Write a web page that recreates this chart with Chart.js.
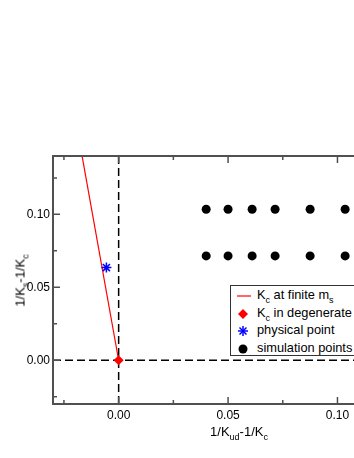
<!DOCTYPE html>
<html>
<head>
<meta charset="utf-8">
<script src="https://cdn.jsdelivr.net/npm/chart.js@4/dist/chart.umd.min.js"></script>
<style>
  html, body { margin:0; padding:0; background:#fff; overflow:hidden; }
  #wrap { position:relative; width:354px; height:458px; overflow:hidden; font-family:"Liberation Sans", Arial, sans-serif; color:#000; }
  #c { position:absolute; left:0; top:0; }
  .sub { font-size:9px; position:relative; top:4px; }
  #xtitle { position:absolute; top:424px; left:0; width:478px; text-align:center; font-size:13px; line-height:16px; }
  #ytitle { position:absolute; left:21px; top:280px; width:120px; margin-left:-60px; margin-top:-8px; text-align:center; font-size:13px; line-height:16px; transform:rotate(-90deg); white-space:nowrap; }
  #legend { position:absolute; left:230px; top:285px; width:188px; height:71px; border:1px solid #333; background:#fff; box-sizing:border-box; font-size:12.8px; }
  .row { position:absolute; left:0; height:17px; line-height:17px; white-space:nowrap; }
  .row svg { position:absolute; left:3px; top:2px; }
  .row span.t { position:absolute; left:26px; top:-1px; }
</style>
</head>
<body>
<div id="wrap">
  <canvas id="c" width="458" height="458"></canvas>
  <div id="ytitle">1/K<span class="sub">s</span>-1/K<span class="sub">c</span></div>
  <div id="xtitle">1/K<span class="sub">ud</span>-1/K<span class="sub">c</span></div>
  <div id="legend"></div>
</div>
<script>
// ---- data ----
const xRange = [-0.03, 0.14];
const yRange = [-0.03, 0.14];
const xTickValues = [0.00, 0.05, 0.10];
const yTickValues = [0.00, 0.05, 0.10];
const xMinorTicks = [-0.025, 0.025, 0.075, 0.125];
const yMinorTicks = [-0.025, 0.025, 0.075, 0.125];

const kcLineX = [0.0, -0.018];
const kcLineY = [0.0, 0.1508];

const degenerateX = [0.0];
const degenerateY = [0.0];

const physicalX = [-0.0056];
const physicalY = [0.0635];

const simX = [0.040, 0.050, 0.061, 0.0715, 0.0875, 0.1035];
const simYRows = [0.1035, 0.0715];

const legendLabels = [
  'K<span class="sub">c</span> at finite m<span class="sub">s</span>',
  'K<span class="sub">c</span> in degenerate',
  'physical point',
  'simulation points'
];

// ---- build ----
const zip = (xs, ys) => xs.map((x, i) => ({x: x, y: ys[i]}));
const simPoints = [];
simYRows.forEach(y => simX.forEach(x => simPoints.push({x: x, y: y})));

const frameTicks = {
  id: 'frameTicks',
  afterDatasetsDraw(chart) {
    const ctx = chart.ctx, a = chart.chartArea;
    const xs = chart.scales.x, ys = chart.scales.y;
    ctx.save();
    ctx.strokeStyle = '#505050';
    ctx.lineWidth = 1.5;
    ctx.beginPath();
    const tick = (vals, len) => {
      vals.forEach(v => {
        const px = xs.getPixelForValue(v);
        if (px > a.left && px < a.right) {
          ctx.moveTo(px, a.bottom); ctx.lineTo(px, a.bottom - len);
          ctx.moveTo(px, a.top); ctx.lineTo(px, a.top + len);
        }
      });
    };
    const ytick = (vals, len) => {
      vals.forEach(v => {
        const py = ys.getPixelForValue(v);
        if (py > a.top && py < a.bottom) {
          ctx.moveTo(a.left, py); ctx.lineTo(a.left + len, py);
          ctx.moveTo(a.right, py); ctx.lineTo(a.right - len, py);
        }
      });
    };
    tick(xTickValues, 7); tick(xMinorTicks, 4);
    ytick(yTickValues, 7); ytick(yMinorTicks, 4);
    ctx.stroke();
    ctx.lineWidth = 2;
    ctx.strokeRect(a.left, a.top, a.right - a.left, a.bottom - a.top);
    ctx.restore();
  }
};

const chart = new Chart(document.getElementById('c'), {
  type: 'scatter',
  data: {
    datasets: [
      { label: 'x0', data: [{x: 0, y: yRange[0]}, {x: 0, y: yRange[1]}], showLine: true, borderColor: '#000', borderWidth: 1.5, borderDash: [8, 4], pointRadius: 0, order: 5 },
      { label: 'y0', data: [{x: xRange[0], y: 0}, {x: xRange[1], y: 0}], showLine: true, borderColor: '#000', borderWidth: 1.5, borderDash: [8, 4], pointRadius: 0, order: 5 },
      { label: 'Kc at finite ms', data: zip(kcLineX, kcLineY), showLine: true, borderColor: '#ff0000', borderWidth: 1.2, pointRadius: 0, order: 4 },
      { label: 'simulation points', data: simPoints, pointStyle: 'circle', pointRadius: 4.5, backgroundColor: '#000', borderColor: '#000', borderWidth: 0, order: 3 },
      { label: 'physical point', data: zip(physicalX, physicalY), pointStyle: 'star', pointRadius: 5, backgroundColor: '#0000ff', borderColor: '#0000ff', borderWidth: 1.5, order: 2 },
      { label: 'Kc in degenerate', data: zip(degenerateX, degenerateY), pointStyle: 'rectRot', pointRadius: 5, backgroundColor: '#ff0000', borderColor: '#ff0000', borderWidth: 0, order: 1 }
    ]
  },
  options: {
    responsive: false,
    animation: false,
    layout: { padding: { top: 156, right: 33, left: 0, bottom: 0 } },
    plugins: { legend: { display: false }, tooltip: { enabled: false } },
    scales: {
      x: {
        type: 'linear', min: xRange[0], max: xRange[1],
        afterBuildTicks: s => { s.ticks = xTickValues.map(v => ({value: v})); },
        afterFit: s => { s.height = 54; },
        grid: { display: false, drawTicks: false },
        border: { display: false },
        ticks: { color: '#000', padding: 4, font: { family: 'Liberation Sans', size: 12 }, callback: v => Number(v).toFixed(2) }
      },
      y: {
        type: 'linear', min: yRange[0], max: yRange[1],
        afterBuildTicks: s => { s.ticks = yTickValues.map(v => ({value: v})); },
        afterFit: s => { s.width = 53; },
        grid: { display: false, drawTicks: false },
        border: { display: false },
        ticks: { color: '#000', padding: 3, font: { family: 'Liberation Sans', size: 12 }, callback: v => Number(v).toFixed(2) }
      }
    }
  },
  plugins: [frameTicks]
});

// ---- legend (HTML, with subscripts) ----
const markers = [
  '<svg width="20" height="14"><line x1="3" y1="7" x2="17" y2="7" stroke="#ff0000" stroke-width="1.2"/></svg>',
  '<svg width="20" height="14"><polygon points="9,2 14,7 9,12 4,7" fill="#ff0000"/></svg>',
  '<svg width="20" height="14" stroke="#0000ff" stroke-width="1.5"><line x1="9" y1="2" x2="9" y2="12"/><line x1="4" y1="7" x2="14" y2="7"/><line x1="5.5" y1="3.5" x2="12.5" y2="10.5"/><line x1="5.5" y1="10.5" x2="12.5" y2="3.5"/></svg>',
  '<svg width="20" height="14"><circle cx="9" cy="7" r="4.5" fill="#000"/></svg>'
];
const lg = document.getElementById('legend');
legendLabels.forEach((lab, i) => {
  const r = document.createElement('div');
  r.className = 'row';
  r.style.top = (1 + 17.5 * i) + 'px';
  r.innerHTML = markers[i] + '<span class="t">' + lab + '</span>';
  lg.appendChild(r);
});
</script>
</body>
</html>
